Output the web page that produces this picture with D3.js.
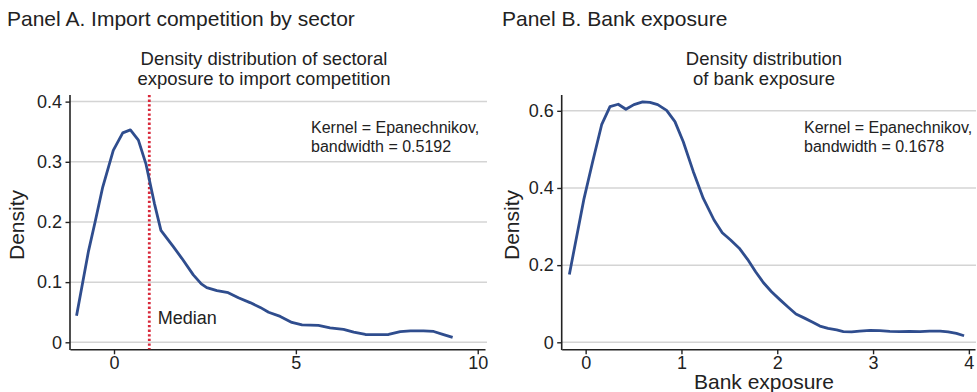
<!DOCTYPE html>
<html>
<head>
<meta charset="utf-8">
<script src="https://cdn.jsdelivr.net/npm/d3@7"></script>
<style>
  html, body { margin: 0; padding: 0; background: #fff; }
  svg { display: block; font-family: "Liberation Sans", Arial, Helvetica, sans-serif; }
</style>
</head>
<body>
<svg id="chart" width="977" height="392"></svg>
<script>
// Panel A: kernel density of sectoral exposure to import competition
const sectorX = [-1.03, -0.86, -0.70, -0.52, -0.31, -0.02, 0.24, 0.45, 0.67, 0.88, 1.11, 1.29,
  1.63, 1.86, 2.18, 2.40, 2.55, 2.83, 3.14, 3.42, 3.74, 4.02, 4.25, 4.57, 4.89, 5.17, 5.62,
  5.94, 6.31, 6.59, 6.91, 7.23, 7.55, 7.87, 8.15, 8.51, 8.79, 9.06, 9.31];
const sectorDensity = [0.044, 0.100, 0.152, 0.200, 0.258, 0.319, 0.348, 0.353, 0.336, 0.296, 0.231, 0.186,
  0.159, 0.140, 0.112, 0.097, 0.091, 0.086, 0.0825, 0.074, 0.066, 0.058, 0.050, 0.043, 0.033, 0.029, 0.028,
  0.024, 0.0216, 0.017, 0.013, 0.0128, 0.013, 0.0177, 0.019, 0.019, 0.018, 0.0128, 0.0083];
const sectorMedian = 0.97;
const sectorXTicks = [0, 5, 10];
const sectorYTicks = [0, 0.1, 0.2, 0.3, 0.4];

// Panel B: kernel density of bank exposure
const bankX = [-0.17, -0.02, 0.073, 0.167, 0.254, 0.34, 0.42, 0.504, 0.595, 0.671, 0.752, 0.845,
  0.932, 1.019, 1.123, 1.228, 1.34, 1.426, 1.513, 1.603, 1.69, 1.774, 1.854, 1.94, 2.03, 2.115,
  2.195, 2.29, 2.37, 2.445, 2.53, 2.62, 2.69, 2.776, 2.86, 2.97, 3.07, 3.176, 3.28, 3.38, 3.49,
  3.59, 3.70, 3.784, 3.87, 3.95];
const bankDensity = [0.176, 0.369, 0.468, 0.564, 0.611, 0.617, 0.604, 0.616, 0.623, 0.622, 0.616, 0.601,
  0.572, 0.520, 0.443, 0.373, 0.317, 0.284, 0.265, 0.244, 0.215, 0.183, 0.155, 0.131, 0.110, 0.091,
  0.0735, 0.062, 0.052, 0.042, 0.036, 0.032, 0.0277, 0.027, 0.029, 0.031, 0.030, 0.0285, 0.0277, 0.0285, 0.0277,
  0.029, 0.029, 0.027, 0.023, 0.017];
const bankXTicks = [0, 1, 2, 3, 4];
const bankYTicks = [0, 0.2, 0.4, 0.6];

const TEXT = "#222";
const LINE = "#2f4d8e";
const GRID = "#d4d4d4";
const MEDIAN = "#d8283a";

const svg = d3.select("#chart");
const fmtY = v => v === 0 ? "0" : v.toFixed(1);

function panel(opt) {
  const g = svg.append("g");
  const x = d3.scaleLinear().domain(opt.xDomain).range([opt.left, opt.right]);
  const y = d3.scaleLinear().domain(opt.yDomain).range([342.3, 95]);
  const axisY = 349.3;

  // panel heading
  g.append("text").attr("x", opt.titleX).attr("y", 26)
    .attr("font-size", 21).attr("fill", TEXT).text(opt.title);
  opt.subtitle.forEach((s, i) => {
    g.append("text").attr("x", opt.subX).attr("y", 65 + i * 19.5)
      .attr("text-anchor", "middle").attr("font-size", 18.5).attr("fill", TEXT).text(s);
  });

  // horizontal grid
  g.append("g").selectAll("line").data(opt.yTicks).join("line")
    .attr("x1", opt.left).attr("x2", opt.gridRight)
    .attr("y1", d => y(d)).attr("y2", d => y(d))
    .attr("stroke", GRID).attr("stroke-width", 1.5);

  // y axis
  const ya = g.append("g").attr("transform", `translate(${opt.left},0)`)
    .call(d3.axisLeft(y).tickValues(opt.yTicks).tickFormat(fmtY).tickSize(4.5).tickPadding(3.5));
  ya.select(".domain").remove();
  ya.selectAll(".tick line").attr("stroke", TEXT).attr("stroke-width", 1.4);
  ya.selectAll(".tick text").attr("font-size", 18).attr("fill", TEXT)
    .attr("font-family", "Liberation Sans, Arial, sans-serif");
  g.append("line").attr("x1", opt.left).attr("x2", opt.left).attr("y1", 95).attr("y2", axisY + 0.8)
    .attr("stroke", TEXT).attr("stroke-width", 1.6);

  // x axis
  const xa = g.append("g").attr("transform", `translate(0,${axisY})`)
    .call(d3.axisBottom(x).tickValues(opt.xTicks).tickFormat(d3.format("d")).tickSize(5).tickPadding(2).tickSizeOuter(0));
  xa.select(".domain").attr("stroke", TEXT).attr("stroke-width", 1.6);
  xa.selectAll(".tick line").attr("stroke", TEXT).attr("stroke-width", 1.4);
  xa.selectAll(".tick text").attr("font-size", 18).attr("fill", TEXT)
    .attr("font-family", "Liberation Sans, Arial, sans-serif");

  // y axis title
  g.append("text").attr("transform", `translate(${opt.yTitleX},225) rotate(-90)`)
    .attr("text-anchor", "middle").attr("font-size", 21).attr("fill", TEXT).text("Density");
  if (opt.xTitle) {
    g.append("text").attr("x", opt.xTitleX).attr("y", 388.5)
      .attr("text-anchor", "middle").attr("font-size", 21).attr("fill", TEXT).text(opt.xTitle);
  }

  // kernel note
  opt.note.forEach((s, i) => {
    g.append("text").attr("x", opt.noteX).attr("y", 133 + i * 18.5)
      .attr("font-size", 16).attr("fill", TEXT).text(s);
  });

  if (opt.median !== undefined) {
    g.append("line").attr("x1", x(opt.median)).attr("x2", x(opt.median))
      .attr("y1", 95).attr("y2", axisY)
      .attr("stroke", MEDIAN).attr("stroke-width", 2.8).attr("stroke-dasharray", "2.3,2.3");
    g.append("text").attr("x", x(opt.median) + 8.5).attr("y", 324)
      .attr("font-size", 18).attr("fill", TEXT).text("Median");
  }

  // density curve
  const pts = opt.xs.map((v, i) => [v, opt.ys[i]]);
  g.append("path").datum(pts)
    .attr("d", d3.line().x(d => x(d[0])).y(d => y(d[1])))
    .attr("fill", "none").attr("stroke", LINE).attr("stroke-width", 2.8)
    .attr("stroke-linejoin", "round");
}

panel({
  title: "Panel A. Import competition by sector", titleX: 7,
  subtitle: ["Density distribution of sectoral", "exposure to import competition"], subX: 264,
  left: 70, right: 485, gridRight: 487,
  xDomain: [-1.21, 10.2], yDomain: [0, 0.411],
  xTicks: sectorXTicks, yTicks: sectorYTicks,
  xs: sectorX, ys: sectorDensity, median: sectorMedian,
  yTitleX: 24, noteX: 311,
  note: ["Kernel = Epanechnikov,", "bandwidth = 0.5192"]
});

panel({
  title: "Panel B. Bank exposure", titleX: 502,
  subtitle: ["Density distribution", "of bank exposure"], subX: 764,
  left: 561.7, right: 975, gridRight: 976,
  xDomain: [-0.25, 4.064], yDomain: [0, 0.641],
  xTicks: bankXTicks, yTicks: bankYTicks,
  xs: bankX, ys: bankDensity,
  yTitleX: 519, noteX: 804,
  xTitle: "Bank exposure", xTitleX: 764,
  note: ["Kernel = Epanechnikov,", "bandwidth = 0.1678"]
});
</script>
</body>
</html>
